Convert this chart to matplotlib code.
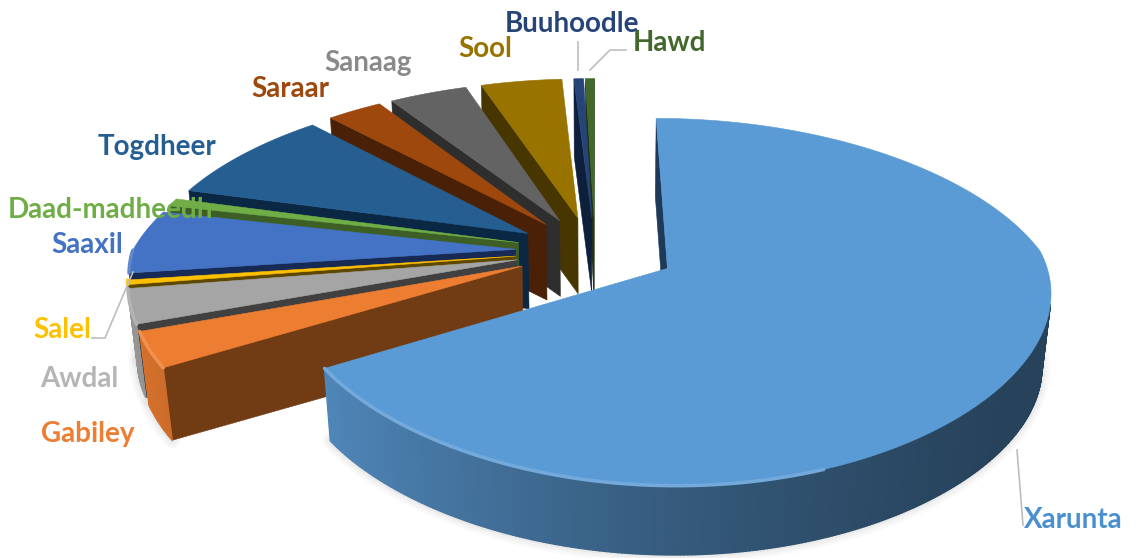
import numpy as np
import matplotlib
matplotlib.use("Agg")
import matplotlib.pyplot as plt
from matplotlib.patches import Polygon

# data (clockwise from 12 o'clock)
categories = ["Xarunta", "Gabiley", "Awdal", "Salel", "Saaxil", "Daad-madheedh",
              "Togdheer", "Saraar", "Sanaag", "Sool", "Buuhoodle", "Hawd"]
values = [66.0, 3.0, 3.0, 0.4, 5.7, 0.7, 8.6, 2.8, 4.0, 4.2, 0.5, 0.45]

# style
top_colors = ["#5b9bd5", "#ed7d31", "#a5a5a5", "#ffc000", "#4472c4", "#70ad47",
              "#255e91", "#9e480e", "#636363", "#997300", "#264478", "#43682b"]
wall_colors = ["#1f3a58", "#713b13", "#404040", "#5e4800", "#172a55", "#3d5f26",
               "#0a2744", "#4a2106", "#2e2e2e", "#473600", "#0e1f3b", "#203315"]
label_colors = ["#4a90d0", "#ed7d31", "#b5b5b5", "#ffc000", "#4472c4", "#70ad47",
                "#255e91", "#9e480e", "#8a8a8a", "#997300", "#264478", "#43682b"]
label_xy = [(1024, 528), (41, 442), (40, 387), (33, 338), (51, 253), (8, 218),
            (98, 155), (251, 97), (324, 71), (458, 57), (505, 32), (633, 51)]
radius = [0.98] + [1.0] * 11
nudge = [8] + [0] * 9 + [3, 3]
EXPLODE = 0.2
X0, Y0, S, SK, PXF, PXN, PYF, PYN, Q, H = 592, 251, 383, 173, 0.21, 0.12, 0.17, 0.19, 0.02, 75

plt.rcParams['font.family'] = ['Lato', 'DejaVu Sans']
fig = plt.figure(figsize=(11.38, 5.58), dpi=100)
ax = fig.add_axes([0, 0, 1, 1])
ax.set_xlim(0, 1138)
ax.set_ylim(558, 0)
ax.axis('off')


def project(u, v, z=0.0):
    u, v = np.asarray(u, float), np.asarray(v, float)
    dx = 1 + np.where(v > 0, PXF, PXN) * v + Q * z
    dy = 1 + np.where(v > 0, PYF, PYN) * v + Q * z
    return X0 + S * u / dx, Y0 - SK * v / dy + H * z


def scale(col, f):
    rgb = np.array(matplotlib.colors.to_rgb(col))
    return tuple(np.clip(rgb * f, 0, 1))


def mix_white(col, f):
    rgb = np.array(matplotlib.colors.to_rgb(col))
    return tuple(rgb + (1 - rgb) * f)


def wall(a, b, color, zo, dx, lw=0.4):
    pts = [project(a[0], a[1], 0), project(b[0], b[1], 0),
           project(b[0], b[1], 1), project(a[0], a[1], 1)]
    pts = np.array([(float(p) + dx, float(q)) for p, q in pts])
    x, y = pts[:, 0], pts[:, 1]
    area = 0.5 * np.sum(x * np.roll(y, -1) - np.roll(x, -1) * y)
    if area < 0:
        ax.add_patch(Polygon(pts, fc=color, ec=color, lw=lw, zorder=zo))


fracs = np.array(values) / sum(values)
edges = np.concatenate([[0], np.cumsum(fracs)]) * 2 * np.pi
order = [11, 10, 9, 8, 7, 6, 5, 4, 3, 2, 1, 0]

for i in order:
    t0, t1 = edges[i], edges[i + 1]
    mid = (t0 + t1) / 2
    cu, cv = EXPLODE * np.sin(mid), EXPLODE * np.cos(mid)
    th = np.linspace(t0, t1, max(3, int((t1 - t0) / np.radians(0.5)) + 2))
    ru, rv = cu + radius[i] * np.sin(th), cv + radius[i] * np.cos(th)
    base = i * -3 + 40
    dx = nudge[i]
    wall((cu, cv), (ru[0], rv[0]), wall_colors[i], base, dx)
    wall((ru[-1], rv[-1]), (cu, cv), wall_colors[i], base, dx)
    for k in range(len(th) - 1):
        f = 0.42 + 0.5 * ((1 - np.sin((th[k] + th[k + 1]) / 2)) / 2) ** 1.6
        wall((ru[k], rv[k]), (ru[k + 1], rv[k + 1]), scale(top_colors[i], f), base + 1, dx, lw=1.0)
    px, py = project(np.r_[cu, ru], np.r_[cv, rv], 0)
    px = px + dx
    ax.add_patch(Polygon(np.c_[px, py], fc=top_colors[i], ec=top_colors[i], lw=0.4, zorder=base + 2))
    near = (np.cos(th) < 0.0) & (np.sin(th) < 0.35)
    if near.sum() > 1:
        ax.plot(px[1:][near], py[1:][near], color=mix_white(top_colors[i], 0.15),
                lw=2.5, zorder=base + 2, solid_capstyle='round')
    # soft ground shadow under the lower rim
    sx, sy = project(ru, rv, 1)
    vis = np.cos(th) < 0.1
    if vis.sum() > 1:
        for lw, alpha in [(12, 0.03), (8, 0.04), (4, 0.05)]:
            ax.plot(sx[vis] + dx, sy[vis], color='#555555', lw=lw, alpha=alpha,
                    zorder=-60, solid_capstyle='round')

for name, col, (x, y) in zip(categories, label_colors, label_xy):
    ax.text(x, y, name, color=col, fontsize=20, fontweight='bold', ha='left', va='baseline', zorder=60)

for xs, ys in [([1017, 1023], [450, 525]), ([578, 578], [42, 70]),
               ([590, 610, 626], [70, 50, 50]), ([133, 105, 92], [272, 338, 338])]:
    ax.plot(xs, ys, color='#bdbdbd', lw=1.2, zorder=55)

fig.savefig('out.png', dpi=100)
